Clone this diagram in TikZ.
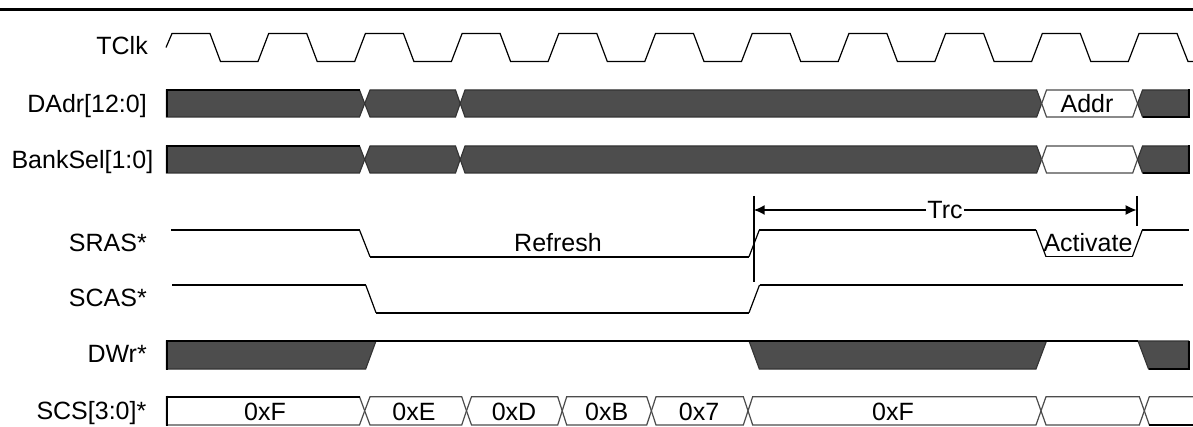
\documentclass[tikz,border=0pt]{standalone}
\usepackage{fontspec}
\setmainfont{Liberation Sans}
\usetikzlibrary{arrows.meta}
\definecolor{busdark}{HTML}{4D4D4D}
\tikzset{
  thinwave/.style={line width=1.2pt,black,line join=miter},
  thickwave/.style={line width=2pt,black},
  txt/.style={font=\fontsize{25}{25}\selectfont,inner sep=0pt,text=black},
  siglabel/.style={txt,anchor=base east},
  inlabel/.style={txt,anchor=base},
  darkseg/.style={fill=busdark,draw=black!80,line width=1.1pt,line join=miter},
  lightseg/.style={fill=white,draw=black!70,line width=1.2pt,line join=miter},
  dimline/.style={line width=1.7pt,black},
  dimarrow/.style={line width=1.6pt,black,-{Latex[length=11pt,width=10pt]}}
}
% left point, top-left, top-right, right point, top, bottom, style
\newcommand{\hexseg}[7]{\path[#7] (#1,{(#5+#6)/2}) -- (#2,#5) -- (#3,#5) -- (#4,{(#5+#6)/2}) -- (#3,#6) -- (#2,#6) -- cycle;}
\newcommand{\addrbus}[2]{%
  \path[darkseg] (166.5,#1) -- (359.5,#1) -- (364.7,{(#1+#2)/2}) -- (359.5,#2) -- (166.5,#2) -- cycle;
  \hexseg{364.7}{370}{455.5}{460.2}{#1}{#2}{darkseg}
  \hexseg{460.2}{465}{1036.7}{1041.7}{#1}{#2}{darkseg}
  \hexseg{1041.7}{1046.5}{1132.7}{1137.5}{#1}{#2}{lightseg}
  \path[darkseg] (1137.5,{(#1+#2)/2}) -- (1142.5,#1) -- (1188.5,#1) -- (1188.5,#2) -- (1142.5,#2) -- cycle;
  \draw[thickwave] (166.5,#1) -- (359.5,#1);
  \draw[thickwave] (166.5,{#1-1}) -- (166.5,{#2+0.5});
  \draw[thickwave] (1142.5,#2) -- (1188.5,#2);
  \draw[thickwave] (1188.5,{#1-0.5}) -- (1188.5,{#2+1});
}
\begin{document}
\begin{tikzpicture}[x=1pt,y=-1pt]
\useasboundingbox (0,0) rectangle (1193,427);
\fill[white] (0,0) rectangle (1193,427);
\draw[line width=2.2pt,black] (0,9.5) -- (1193,9.5);

% labels
\node[siglabel] (lclk)  at (148,55)    {TClk};
\node[siglabel] (ladr)  at (147,113)   {DAdr[12:0]};
\node[siglabel] (lbank) at (153.5,168.3) {BankSel[1:0]};
\node[siglabel] (lras)  at (147,251.7) {SRAS*};
\node[siglabel] (lcas)  at (147,306.7) {SCAS*};
\node[siglabel] (ldwr)  at (147,362.7) {DWr*};
\node[siglabel] (lscs)  at (146.5,419.3) {SCS[3:0]*};

% TClk
\draw[thinwave] (166,47.5) -- (172,33.5)
  \foreach \k in {0,...,9} { -- ({172+96.7*\k},33.5) -- ({210+96.7*\k},33.5) -- ({220.5+96.7*\k},61.5) -- ({258+96.7*\k},61.5) -- ({268.7+96.7*\k},33.5) }
  -- (1177,33.5) -- (1188,61.5) -- (1193,61.5);

% buses
\addrbus{90}{117}
\addrbus{146}{173}

% SRAS*
\draw[thinwave] (359.5,230) -- (370,256.7) (749,256.7) -- (759.3,230) (1036,230) -- (1046,256.7) (1132.3,256.7) -- (1142.3,230);
\draw[thickwave] (171,230) -- (359.5,230) (370,256.7) -- (749,256.7) (759.3,230) -- (1036,230);
\draw[thinwave] (1046,256.7) -- (1132.3,256.7);
\draw[thickwave] (1142.3,230) -- (1189.3,230);

% SCAS*
\draw[thinwave] (365.7,285) -- (376,312.7) (749,312.7) -- (759.5,285);
\draw[thickwave] (172,285) -- (365.7,285) (376,312.7) -- (749,312.7) (759.5,285) -- (1183,285);

% DWr*
\path[darkseg] (166.5,341) -- (376,341) -- (365.7,369) -- (166.5,369) -- cycle;
\path[darkseg] (749,341) -- (1046.5,341) -- (1036,369) -- (759.3,369) -- cycle;
\path[darkseg] (1138,341) -- (1188.5,341) -- (1188.5,369) -- (1148.5,369) -- cycle;
\draw[thickwave] (166.5,341) -- (1046.5,341) (1046.5,341) -- (1138,341);
\draw[thickwave] (166.5,340) -- (166.5,370);
\draw[thickwave] (1148.5,369) -- (1188.5,369) (1188.5,340.5) -- (1188.5,370);

% SCS
\path[lightseg] (166.5,396.7) -- (359.5,396.7) -- (364.7,410.85) -- (359.5,425) -- (166.5,425) -- cycle;
\hexseg{364.7}{370}{461.7}{466.5}{396.7}{425}{lightseg}
\hexseg{466.5}{471.5}{557.7}{562.2}{396.7}{425}{lightseg}
\hexseg{562.2}{566.7}{646.7}{651.4}{396.7}{425}{lightseg}
\hexseg{651.4}{656}{743.3}{748}{396.7}{425}{lightseg}
\hexseg{748}{752.7}{1036}{1041}{396.7}{425}{lightseg}
\hexseg{1041}{1046}{1139.3}{1144.3}{396.7}{425}{lightseg}
\draw[lightseg,fill=none] (1193,396.7) -- (1149.3,396.7) -- (1144.3,410.85) -- (1149.3,425) -- (1193,425);
\draw[thickwave] (166.5,396.7) -- (359.5,396.7) (166.5,395.7) -- (166.5,426) (1149.3,425) -- (1193,425);

% inner texts
\node[inlabel] (taddr) at (1087,112.7) {Addr};
\node[inlabel] (trefresh) at (558,251.7) {Refresh};
\node[inlabel] (tact) at (1088,251.7) {Activate};
\node[inlabel] (s0) at (265,420) {0xF};
\node[inlabel] (s1) at (414,420) {0xE};
\node[inlabel] (s2) at (514,420) {0xD};
\node[inlabel] (s3) at (606.7,420) {0xB};
\node[inlabel] (s4) at (699,420) {0x7};
\node[inlabel] (s5) at (893,420) {0xF};

% Trc dimension
\coordinate (vla) at (753.7,196);
\coordinate (vlb) at (753.7,281.7);
\coordinate (vra) at (1136.7,196);
\coordinate (vrb) at (1136.7,226);
\coordinate (tipl) at (753.7,210);
\coordinate (tipr) at (1136.7,210);
\draw[dimline] (vla) -- (vlb);
\draw[dimline] (vra) -- (vrb);
\node[inlabel,anchor=center,inner xsep=1pt] (trc) at (945,210) {\vphantom{T}Trc};
\draw[dimarrow] (trc) -- (tipl);
\draw[dimarrow] (trc) -- (tipr);
\end{tikzpicture}
\end{document}
